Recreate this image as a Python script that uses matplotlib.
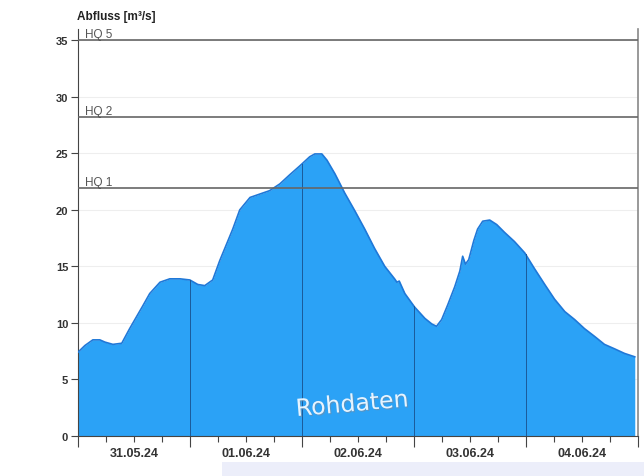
import numpy as np
import pandas as pd
import matplotlib
matplotlib.use("Agg")
import matplotlib.pyplot as plt
import matplotlib.dates as mdates
import matplotlib.patheffects as pe
from matplotlib.patches import Rectangle

START = pd.Timestamp("2024-05-31 00:00")

# hours since 31.05.24 00:00 and discharge in m3/s
hours = [0, 1.5, 3.2, 4.7, 5.8, 7.5, 9.4, 11.1, 13.9, 15.4, 17.6, 19.7, 21.9,
         24, 25.7, 27.2, 28.9, 30.4, 33.2, 34.7, 36.9, 39, 41.1, 43.3, 45.4,
         47.6, 49.7, 50.8, 52.3, 53.4, 55.1, 57.2, 59.4, 61.5, 63.6, 65.8,
         67.9, 68.4, 68.9, 70.1, 72.2, 74.4, 75.9, 76.9, 78, 79.3, 80.8, 81.9,
         82.5, 83.1, 83.8, 84.9, 85.7, 86.8, 88.3, 89.8, 91.5, 93.6, 95.8,
         97.9, 100.1, 102.2, 104.4, 106.5, 108.6, 110.8, 112.9, 115.1, 117.2,
         119.4]
flow = [7.4, 8.0, 8.5, 8.5, 8.3, 8.1, 8.2, 9.5, 11.5, 12.6, 13.6, 13.9, 13.9,
        13.8, 13.4, 13.3, 13.8, 15.5, 18.3, 20.0, 21.1, 21.4, 21.7, 22.3, 23.1,
        23.9, 24.7, 24.95, 24.95, 24.4, 23.2, 21.5, 19.9, 18.3, 16.6, 15.0,
        13.9, 13.6, 13.7, 12.6, 11.4, 10.4, 9.9, 9.7, 10.3, 11.6, 13.2, 14.6,
        15.9, 15.2, 15.6, 17.3, 18.3, 19.0, 19.1, 18.7, 18.0, 17.2, 16.2,
        14.8, 13.4, 12.1, 11.0, 10.3, 9.5, 8.8, 8.1, 7.7, 7.3, 7.0]

hq_names = ["HQ 1", "HQ 2", "HQ 5"]
hq_values = [21.9, 28.2, 35.0]
day_labels = ["31.05.24", "01.06.24", "02.06.24", "03.06.24", "04.06.24"]

times = START + pd.to_timedelta(hours, unit="h")
days = START + pd.to_timedelta(np.arange(0, 6) * 24, unit="h")
noons = days[:-1] + pd.Timedelta(hours=12)

fig = plt.figure(figsize=(6.44, 4.77), dpi=100)
ax = fig.add_axes([0.121, 0.084, 0.869, 0.853])

fill_col = "#2ba2f6"
ax.fill_between(times, flow, 0, color=fill_col, lw=0, zorder=2)
ax.plot(times, flow, color="#1f78d8", lw=1.2, zorder=3, solid_joinstyle="round")

# day separators drawn inside the filled area
num_t = mdates.date2num(times)
for d in days[1:5]:
    top = np.interp(mdates.date2num(d), num_t, flow)
    ax.plot([d, d], [0, top], color="#1b5a9a", lw=0.7, zorder=3)

# faint horizontal grid
for yv in range(5, 36, 5):
    ax.axhline(yv, color="#eeeeee", lw=0.8, zorder=1)

# flood thresholds
for name, val in zip(hq_names, hq_values):
    ax.axhline(val, color="#666666", lw=1.2, zorder=4)
    ax.text(days[0] + pd.Timedelta(hours=1.6), val + 0.05, name,
            fontsize=8.5, color="#555555", va="bottom", ha="left",
            family="Liberation Sans", zorder=5)

ax.text(0.49, 0.078, "Rohdaten", transform=ax.transAxes, fontsize=17,
        color="#e6f4ff", rotation=5, ha="center", va="center",
        family="DejaVu Sans", zorder=5,
        path_effects=[pe.withSimplePatchShadow(offset=(0.8, -0.8),
                                               shadow_rgbFace="#6a8fb0", alpha=0.7)])

ax.set_xlim(days[0], days[-1])
ax.set_ylim(0, 36)
ax.set_yticks(range(0, 36, 5))
ax.tick_params(axis="y", length=5, width=0.8, labelsize=8, pad=2, color="#444444")
for lab in ax.get_yticklabels():
    lab.set_fontweight("bold")
    lab.set_family("Liberation Sans")
    lab.set_color("#333333")

ax.set_xticks(days)
ax.set_xticklabels([""] * len(days))
ax.set_xticks(pd.date_range(days[0], days[-1], freq="6h"), minor=True)
ax.tick_params(axis="x", which="major", length=8, width=0.8, color="#444444")
ax.tick_params(axis="x", which="minor", length=4, width=0.8, color="#444444")
for nt, lab in zip(noons, day_labels):
    ax.text(nt, -1.0, lab, ha="center", va="top", fontsize=9, fontweight="bold",
            color="#333333", family="Liberation Sans")

ax.spines["top"].set_visible(False)
ax.spines["right"].set_color("#888888")
ax.spines["right"].set_linewidth(1.2)
ax.spines["left"].set_color("#444444")
ax.spines["bottom"].set_color("#444444")

fig.text(0.12, 0.965, "Abfluss [m\u00b3/s]", fontsize=8.5, fontweight="bold",
         ha="left", va="center", family="Liberation Sans", color="#222222")

# light strip at the bottom of the screenshot
fig.patches.append(Rectangle((0.345, 0.0), 0.66, 0.03, transform=fig.transFigure,
                             facecolor="#eceefa", edgecolor="none"))

fig.savefig("out.png", dpi=100)
